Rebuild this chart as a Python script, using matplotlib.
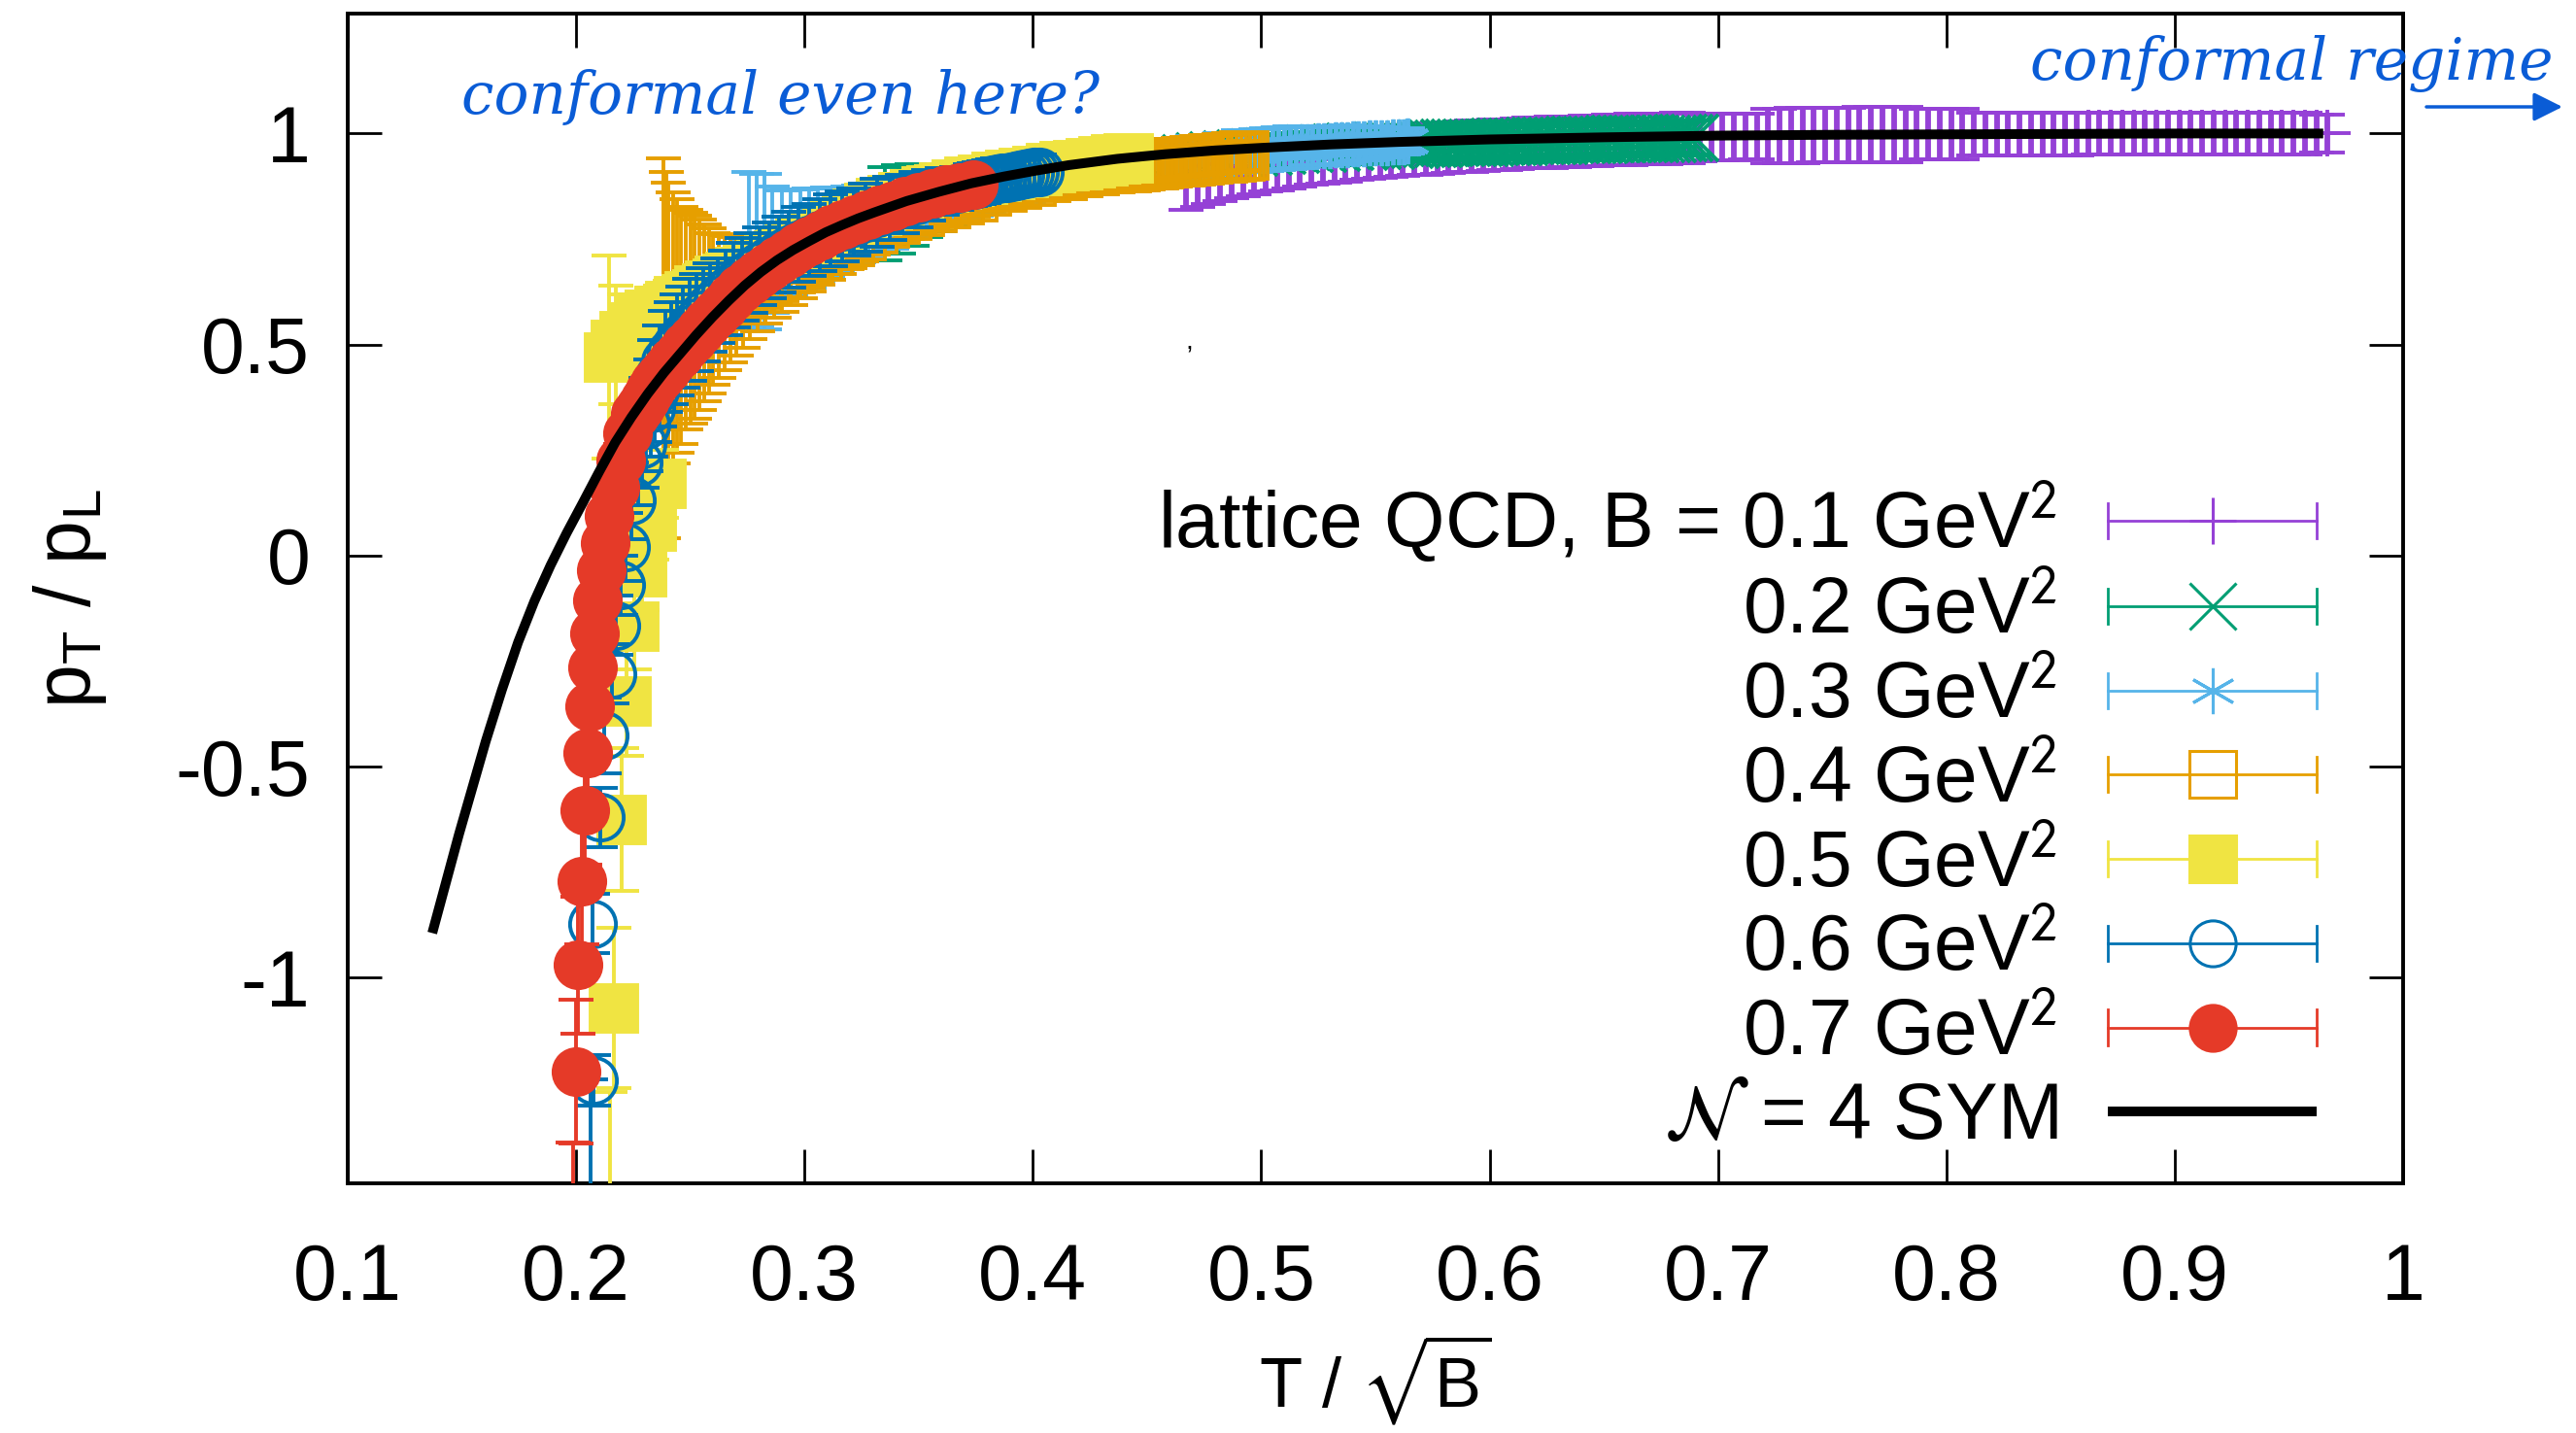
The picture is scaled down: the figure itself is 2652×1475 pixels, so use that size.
import numpy as np
import matplotlib
matplotlib.use("Agg")
import matplotlib.pyplot as plt
from matplotlib.container import ErrorbarContainer
from matplotlib.legend_handler import HandlerBase
from matplotlib.lines import Line2D

plt.rcParams["font.family"] = ["Liberation Sans", "DejaVu Sans"]
plt.rcParams["mathtext.fontset"] = "stixsans"
plt.rcParams["axes.unicode_minus"] = False

# lattice QCD, pT/pL against T/sqrt(B), one block per magnetic field
b01_x = [0.467, 0.472, 0.477, 0.482, 0.487, 0.492, 0.497, 0.502, 0.507, 0.512,
         0.517, 0.522, 0.527, 0.532, 0.537, 0.542, 0.547, 0.552, 0.557, 0.562,
         0.567, 0.572, 0.577, 0.582, 0.587, 0.592, 0.597, 0.602, 0.607, 0.612,
         0.617, 0.622, 0.627, 0.632, 0.637, 0.642, 0.647, 0.652, 0.657, 0.662,
         0.667, 0.672, 0.677, 0.682, 0.687, 0.692, 0.697, 0.702, 0.707, 0.712,
         0.717, 0.722, 0.727, 0.732, 0.737, 0.742, 0.747, 0.752, 0.757, 0.762,
         0.767, 0.772, 0.777, 0.782, 0.787, 0.792, 0.797, 0.802, 0.807, 0.812,
         0.817, 0.822, 0.827, 0.832, 0.837, 0.842, 0.847, 0.852, 0.857, 0.862,
         0.867, 0.872, 0.877, 0.882, 0.887, 0.892, 0.897, 0.902, 0.907, 0.912,
         0.917, 0.922, 0.927, 0.932, 0.937, 0.942, 0.947, 0.952, 0.957, 0.962, 0.967]
b01_y = [0.878, 0.886, 0.893, 0.900, 0.906, 0.912, 0.917, 0.922, 0.926, 0.930,
         0.934, 0.938, 0.941, 0.944, 0.947, 0.950, 0.952, 0.955, 0.957, 0.959,
         0.961, 0.963, 0.965, 0.967, 0.968, 0.970, 0.971, 0.973, 0.974, 0.976,
         0.977, 0.978, 0.979, 0.980, 0.981, 0.982, 0.983, 0.984, 0.985, 0.986,
         0.987, 0.988, 0.988, 0.989, 0.990, 0.990, 0.991, 0.992, 0.992, 0.993,
         0.993, 0.994, 0.994, 0.995, 0.995, 0.996, 0.996, 0.996, 0.996, 0.997,
         0.997, 0.997, 0.997, 0.998, 0.998, 0.998, 0.998, 0.998, 0.998, 0.999,
         0.999, 0.999, 0.999, 0.999, 0.999, 0.999, 0.999, 0.999, 0.999, 1.000,
         1.000, 1.000, 1.000, 1.000, 1.000, 1.000, 1.000, 1.000, 1.000, 1.000,
         1.000, 1.000, 1.000, 1.000, 1.000, 1.000, 1.000, 1.000, 1.000, 1.000, 1.000]
b01_e = [0.060] * 45 + [0.055] * 6 + [0.065] * 13 + [0.060] * 5 + [0.050] * 30 + [0.045] * 2

b02_x = [0.335, 0.341, 0.347, 0.353, 0.359, 0.365, 0.371, 0.377, 0.383, 0.389,
         0.395, 0.401, 0.407, 0.413, 0.419, 0.425, 0.431, 0.437, 0.443, 0.449,
         0.455, 0.461, 0.467, 0.473, 0.479, 0.485, 0.491, 0.497, 0.503, 0.509,
         0.515, 0.521, 0.527, 0.533, 0.539, 0.545, 0.551, 0.557,
         0.5650, 0.5675, 0.5700, 0.5725, 0.5750, 0.5775, 0.5800, 0.5825, 0.5850, 0.5875,
         0.5900, 0.5925, 0.5950, 0.5975, 0.6000, 0.6025, 0.6050, 0.6075, 0.6100, 0.6125,
         0.6150, 0.6175, 0.6200, 0.6225, 0.6250, 0.6275, 0.6300, 0.6325, 0.6350, 0.6375,
         0.6400, 0.6425, 0.6450, 0.6475, 0.6500, 0.6525, 0.6550, 0.6575, 0.6600, 0.6625,
         0.6650, 0.6675, 0.6700, 0.6725, 0.6750, 0.6775, 0.6800, 0.6825, 0.6850, 0.6875, 0.6900]
b02_y = [0.810, 0.820, 0.830, 0.840, 0.848, 0.856, 0.864, 0.871, 0.878, 0.885,
         0.891, 0.896, 0.902, 0.907, 0.912, 0.917, 0.921, 0.925, 0.929, 0.932,
         0.936, 0.939, 0.942, 0.945, 0.948, 0.951, 0.953, 0.955, 0.957, 0.959,
         0.961, 0.963, 0.964, 0.966, 0.968, 0.969, 0.970, 0.972,
         0.974, 0.974, 0.975, 0.975, 0.976, 0.976, 0.977, 0.977, 0.977, 0.978,
         0.978, 0.978, 0.979, 0.979, 0.979, 0.980, 0.980, 0.980, 0.981, 0.981,
         0.981, 0.982, 0.982, 0.982, 0.983, 0.983, 0.983, 0.983, 0.984, 0.984,
         0.984, 0.985, 0.985, 0.985, 0.985, 0.986, 0.986, 0.986, 0.986, 0.987,
         0.987, 0.987, 0.987, 0.988, 0.988, 0.988, 0.988, 0.989, 0.989, 0.989, 0.990]
b02_e = [0.110, 0.104, 0.097, 0.085, 0.080, 0.073, 0.066, 0.062, 0.060, 0.057,
         0.054, 0.050] + [0.050] * 3 + [0.045] * 6 + [0.040] * 68

b03_x = [0.2757, 0.2790, 0.2825, 0.2860, 0.2900, 0.2940, 0.2980, 0.3020, 0.3060, 0.3100,
         0.3145, 0.3190, 0.3235, 0.3280, 0.3330, 0.3380, 0.3430, 0.3480, 0.3530, 0.3585,
         0.3640, 0.3695, 0.3750, 0.3805, 0.3860, 0.3920, 0.3980, 0.4040, 0.4100, 0.4160,
         0.4220, 0.4280, 0.4340, 0.4400, 0.4460, 0.4520, 0.4580, 0.4640, 0.4700, 0.4760,
         0.4820,
         0.4900, 0.4925, 0.4950, 0.4975, 0.5000, 0.5025, 0.5050, 0.5075, 0.5100, 0.5125,
         0.5150, 0.5175, 0.5200, 0.5225, 0.5250, 0.5275, 0.5300, 0.5325, 0.5350, 0.5375,
         0.5400, 0.5425, 0.5450, 0.5475, 0.5500, 0.5525, 0.5550, 0.5575, 0.5600, 0.5625, 0.5640]
b03_y = [0.730, 0.725, 0.720, 0.725, 0.735, 0.742, 0.747, 0.752, 0.760, 0.766,
         0.773, 0.780, 0.786, 0.792, 0.800, 0.808, 0.817, 0.828, 0.837, 0.843,
         0.851, 0.858, 0.866, 0.872, 0.877, 0.883, 0.889, 0.894, 0.899, 0.904,
         0.909, 0.913, 0.918, 0.922, 0.926, 0.931, 0.935, 0.939, 0.943, 0.947,
         0.952,
         0.957, 0.958, 0.959, 0.960, 0.961, 0.962, 0.963, 0.964, 0.965, 0.966,
         0.967, 0.968, 0.969, 0.969, 0.970, 0.971, 0.972, 0.973, 0.973, 0.974,
         0.975, 0.976, 0.976, 0.977, 0.978, 0.979, 0.979, 0.980, 0.981, 0.981, 0.982]
b03_e = [0.180, 0.180, 0.185, 0.150, 0.130, 0.125, 0.120, 0.118, 0.110, 0.105,
         0.100, 0.095, 0.090, 0.087, 0.083, 0.080, 0.075, 0.070, 0.067, 0.064,
         0.060, 0.060, 0.060, 0.057, 0.055, 0.055, 0.053, 0.050] + [0.050] * 13 + \
        [0.050] * 12 + [0.045] * 8 + [0.040] * 5 + [0.035] * 3 + [0.030] * 3

b04_x = [0.2384, 0.2397, 0.2404, 0.2424, 0.2440, 0.2460, 0.2480, 0.2500, 0.2520, 0.2540,
         0.2560, 0.2580, 0.2600, 0.2625, 0.2650, 0.2675, 0.2700, 0.2730, 0.2760, 0.2795,
         0.2830, 0.2865, 0.2900, 0.2940, 0.2980, 0.3020, 0.3060, 0.3105, 0.3150, 0.3200,
         0.3250, 0.3300, 0.3350, 0.3400, 0.3450, 0.3505, 0.3560, 0.3620, 0.3680, 0.3740,
         0.3800, 0.3865, 0.3930, 0.3995, 0.4060, 0.4130, 0.4200, 0.4270, 0.4340,
         0.4410, 0.4430, 0.4450, 0.4470, 0.4490, 0.4510, 0.4530, 0.4550, 0.4570, 0.4590,
         0.4610, 0.4630, 0.4650, 0.4670, 0.4690, 0.4710, 0.4730, 0.4750, 0.4770, 0.4790,
         0.4810, 0.4830, 0.4850, 0.4870, 0.4890, 0.4910, 0.4926]
b04_y = [0.491, 0.516, 0.528, 0.540, 0.544, 0.545, 0.560, 0.562, 0.565, 0.570,
         0.575, 0.580, 0.585, 0.592, 0.600, 0.607, 0.615, 0.623, 0.632, 0.641,
         0.650, 0.659, 0.668, 0.679, 0.690, 0.701, 0.712, 0.722, 0.733, 0.744,
         0.758, 0.772, 0.786, 0.796, 0.805, 0.815, 0.824, 0.833, 0.842, 0.850,
         0.862, 0.872, 0.880, 0.887, 0.894, 0.900, 0.906, 0.911, 0.915,
         0.919, 0.920, 0.921, 0.923, 0.924, 0.925, 0.926, 0.928, 0.929, 0.930,
         0.931, 0.932, 0.933, 0.934, 0.935, 0.936, 0.937, 0.938, 0.939, 0.940,
         0.941, 0.942, 0.943, 0.944, 0.945, 0.946, 0.948]
b04_e = [0.449, 0.393, 0.355, 0.321, 0.300, 0.280, 0.260, 0.250, 0.240, 0.225,
         0.210, 0.195, 0.180, 0.170, 0.160, 0.150, 0.140, 0.130, 0.120, 0.110,
         0.100, 0.095, 0.090, 0.085, 0.080, 0.075, 0.070, 0.068, 0.065, 0.062,
         0.060, 0.058, 0.055, 0.055, 0.055, 0.052, 0.050, 0.050, 0.050, 0.048,
         0.045, 0.045, 0.045, 0.042, 0.040, 0.040, 0.040, 0.040, 0.040] + \
        [0.038] * 10 + [0.035] * 17

b05_x = [0.2148, 0.2165, 0.2200, 0.2220, 0.2256, 0.2290, 0.2330, 0.2375,
         0.2145, 0.2175, 0.2210, 0.2250, 0.2290, 0.2330, 0.2370, 0.2410, 0.2450, 0.2495,
         0.2540, 0.2585, 0.2630, 0.2675, 0.2720, 0.2765, 0.2810, 0.2855, 0.2900, 0.2950,
         0.3000, 0.3050, 0.3100, 0.3150, 0.3200, 0.3250, 0.3300, 0.3350, 0.3400, 0.3450,
         0.3500, 0.3555, 0.3610, 0.3665, 0.3720, 0.3780, 0.3840, 0.3900, 0.3960, 0.4020,
         0.4080, 0.4140, 0.4200, 0.4255, 0.4310, 0.4365, 0.4420]
b05_y = [-1.900, -1.072, -0.625, -0.345, -0.169, -0.040, 0.070, 0.170,
         0.470, 0.500, 0.520, 0.540, 0.556, 0.569, 0.580, 0.591, 0.602, 0.615,
         0.628, 0.640, 0.651, 0.660, 0.671, 0.682, 0.694, 0.706, 0.720, 0.732,
         0.745, 0.757, 0.770, 0.782, 0.795, 0.808, 0.820, 0.830, 0.840, 0.849,
         0.857, 0.865, 0.872, 0.879, 0.885, 0.891, 0.897, 0.902, 0.907, 0.912,
         0.917, 0.922, 0.926, 0.930, 0.934, 0.938, 0.941]
b05_e = [0.630, 0.190, 0.170, 0.130, 0.100, 0.090, 0.080, 0.080,
         0.240, 0.140, 0.100, 0.080, 0.070, 0.065, 0.060] + [0.060] * 12 + \
        [0.062, 0.065, 0.068, 0.070, 0.070, 0.070, 0.070, 0.070, 0.068, 0.065,
         0.062, 0.060, 0.058, 0.055, 0.052, 0.050, 0.050, 0.050, 0.048, 0.045,
         0.045, 0.045] + [0.040] * 6

b06_x = [0.2065, 0.2074, 0.2072, 0.2105, 0.2121, 0.2157, 0.2175, 0.2195, 0.2215, 0.2240,
         0.2270, 0.2287, 0.2305, 0.2325, 0.2345, 0.2367, 0.2390, 0.2415, 0.2440, 0.2467,
         0.2495, 0.2525, 0.2555, 0.2587, 0.2620, 0.2655, 0.2690, 0.2727, 0.2765, 0.2805,
         0.2845, 0.2887, 0.2930, 0.2975, 0.3020, 0.3067, 0.3115, 0.3165, 0.3215, 0.3267,
         0.3320, 0.3375, 0.3430, 0.3487, 0.3545, 0.3605, 0.3665,
         0.3727, 0.3745, 0.3765, 0.3785, 0.3805, 0.3825, 0.3845, 0.3865, 0.3885, 0.3905,
         0.3925, 0.3945, 0.3965, 0.3985, 0.4005, 0.4030]
b06_y = [-1.800, -1.242, -0.872, -0.620, -0.426, -0.280, -0.165, -0.070, 0.020, 0.130,
         0.220, 0.265, 0.310, 0.350, 0.390, 0.425, 0.460, 0.480, 0.500, 0.518,
         0.535, 0.553, 0.570, 0.588, 0.605, 0.623, 0.640, 0.655, 0.670, 0.685,
         0.700, 0.713, 0.725, 0.737, 0.748, 0.759, 0.770, 0.780, 0.790, 0.801,
         0.812, 0.823, 0.833, 0.843, 0.853, 0.862, 0.870,
         0.878, 0.880, 0.883, 0.885, 0.888, 0.890, 0.892, 0.894, 0.896, 0.898,
         0.900, 0.902, 0.904, 0.906, 0.908, 0.910]
b06_e = [0.560, 0.060, 0.070, 0.070, 0.090, 0.070, 0.070, 0.070, 0.080, 0.090,
         0.100, 0.105, 0.110, 0.115, 0.120, 0.120, 0.120, 0.120, 0.120, 0.120,
         0.120, 0.115, 0.110, 0.105, 0.100, 0.100, 0.100, 0.098, 0.095, 0.092,
         0.090, 0.090, 0.090, 0.088, 0.085, 0.085, 0.085, 0.083, 0.080, 0.080,
         0.080, 0.075, 0.070, 0.065, 0.060, 0.055, 0.050,
         0.050, 0.050, 0.050, 0.050, 0.049, 0.048, 0.048, 0.047, 0.046, 0.045,
         0.045, 0.044, 0.043, 0.042, 0.041, 0.040]

b07_x = [0.1985, 0.2000, 0.2007, 0.2025, 0.2036, 0.2051, 0.2061, 0.2070, 0.2080, 0.2095,
         0.2110, 0.2125, 0.2145, 0.2168, 0.2195, 0.2225, 0.2260, 0.2280, 0.2300, 0.2322,
         0.2345, 0.2370, 0.2395, 0.2422, 0.2450, 0.2480, 0.2510, 0.2542, 0.2575, 0.2610,
         0.2645, 0.2682, 0.2720, 0.2760, 0.2800, 0.2842, 0.2885, 0.2930, 0.2975, 0.3022,
         0.3070, 0.3120, 0.3170, 0.3222, 0.3275, 0.3330, 0.3385, 0.3442, 0.3500, 0.3560,
         0.3620, 0.3680, 0.3740]
b07_y = [-1.750, -1.223, -0.970, -0.770, -0.602, -0.468, -0.357, -0.265, -0.184, -0.107,
         -0.035, 0.030, 0.095, 0.160, 0.225, 0.290, 0.335, 0.353, 0.370, 0.390,
         0.410, 0.426, 0.442, 0.460, 0.477, 0.496, 0.514, 0.534, 0.553, 0.572,
         0.591, 0.612, 0.632, 0.650, 0.668, 0.684, 0.700, 0.716, 0.732, 0.746,
         0.759, 0.772, 0.784, 0.796, 0.807, 0.818, 0.829, 0.840, 0.850, 0.859,
         0.867, 0.873, 0.879]
b07_e = [0.360, 0.170, 0.163, 0.150, 0.130, 0.110, 0.100, 0.090, 0.080, 0.070,
         0.060, 0.050, 0.045, 0.040, 0.040, 0.035, 0.035] + [0.030] * 21 + [0.025] * 15

# N = 4 SYM curve
sym_x = [0.137, 0.1487, 0.1604, 0.1675, 0.1746, 0.1817, 0.1888, 0.1958, 0.2029, 0.2100,
         0.2171, 0.2242, 0.2313, 0.2384, 0.2455, 0.2526, 0.2597, 0.2668, 0.2738, 0.2809,
         0.2880, 0.2950, 0.3020, 0.3093, 0.3164, 0.3235, 0.3305, 0.3447, 0.3589, 0.3730,
         0.3872, 0.4013, 0.4156, 0.4370, 0.4580, 0.4800, 0.5000, 0.5300, 0.5600, 0.6000,
         0.6500, 0.7000, 0.7500, 0.8000, 0.8500, 0.9000, 0.9650]
sym_y = [-0.894, -0.660, -0.440, -0.318, -0.205, -0.108, -0.023, 0.053, 0.125, 0.198,
         0.268, 0.328, 0.383, 0.433, 0.478, 0.523, 0.565, 0.604, 0.640, 0.672,
         0.700, 0.724, 0.745, 0.766, 0.783, 0.799, 0.813, 0.840, 0.862, 0.882,
         0.898, 0.912, 0.925, 0.940, 0.951, 0.960, 0.966, 0.974, 0.980, 0.986,
         0.991, 0.995, 0.997, 0.998, 0.999, 1.000, 1.000]

x_ticks = [0.1, 0.2, 0.3, 0.4, 0.5, 0.6, 0.7, 0.8, 0.9, 1.0]
x_ticklabels = ["0.1", "0.2", "0.3", "0.4", "0.5", "0.6", "0.7", "0.8", "0.9", "1"]
y_ticks = [-1, -0.5, 0, 0.5, 1]
y_ticklabels = ["-1", "-0.5", "0", "0.5", "1"]

FS = 58
MS = 34
KEY_LW = 2.0
CAP = 13
NOTE_BLUE = "#0a5cd6"

# data, colour, marker, filled, error-bar width, key label
series = [
    (b01_x, b01_y, b01_e, "#9541d6", "+", False, 4.2, "lattice QCD, B = 0.1 GeV$^2$"),
    (b02_x, b02_y, b02_e, "#009e73", "x", False, 2.8, "0.2 GeV$^2$"),
    (b03_x, b03_y, b03_e, "#56b4e9", (6, 2, 0), False, 2.8, "0.3 GeV$^2$"),
    (b04_x, b04_y, b04_e, "#e69f00", "s", False, 2.8, "0.4 GeV$^2$"),
    (b05_x, b05_y, b05_e, "#f0e442", "s", True, 2.8, "0.5 GeV$^2$"),
    (b06_x, b06_y, b06_e, "#0072b2", "o", False, 2.8, "0.6 GeV$^2$"),
    (b07_x, b07_y, b07_e, "#e53a28", "o", True, 2.8, "0.7 GeV$^2$"),
]


class GnuplotKey(HandlerBase):
    # gnuplot style key sample: horizontal bar with end ticks and the point in the middle
    def create_artists(self, legend, orig_handle, xdescent, ydescent,
                       width, height, fontsize, trans):
        pts = orig_handle.lines[0]
        col = pts.get_markeredgecolor()
        x0, x1 = -xdescent, width - xdescent
        yc = (height - ydescent) / 2
        bar = Line2D([x0, x1], [yc, yc], color=col, lw=KEY_LW)
        ends = Line2D([x0, x0, np.nan, x1, x1],
                      [yc - CAP, yc + CAP, np.nan, yc - CAP, yc + CAP],
                      color=col, lw=KEY_LW)
        mark = Line2D([(x0 + x1) / 2], [yc], ls="none", marker=pts.get_marker(),
                      ms=pts.get_markersize(), mfc=pts.get_markerfacecolor(),
                      mec=col, mew=2.2)
        for a in (bar, ends, mark):
            a.set_transform(trans)
        return [bar, ends, mark]


fig = plt.figure(figsize=(26.52, 14.75), dpi=100)
ax = fig.add_axes([0.1350, 0.1742, 0.7979, 0.8163])

handles, labels = [], []
for i, (x, y, e, col, mk, filled, elw, lab) in enumerate(series):
    eb = ax.errorbar(x, y, yerr=e, ls="none", marker=mk, ms=MS, mew=2.8,
                     mec=col, mfc=col if filled else "none", color=col,
                     ecolor=col, elinewidth=elw, capsize=CAP, capthick=elw,
                     zorder=3 + i)
    handles.append(eb)
    labels.append(lab)

sym_line, = ax.plot(sym_x, sym_y, color="black", lw=7.2, solid_capstyle="butt", zorder=20)
handles.append(sym_line)
labels.append(r"$\mathcal{N}$ = 4 SYM")

ax.set_xlim(0.1, 1.0)
ax.set_ylim(-1.487, 1.284)
ax.set_xticks(x_ticks)
ax.set_xticklabels(x_ticklabels)
ax.set_yticks(y_ticks)
ax.set_yticklabels(y_ticklabels)
ax.tick_params(direction="in", length=25, width=2, top=True, right=True, labelsize=FS)
ax.tick_params(axis="x", pad=44)
ax.tick_params(axis="y", pad=28)
for s in ax.spines.values():
    s.set_linewidth(2.8)

ax.set_xlabel(r"T / $\sqrt{\mathregular{B}}$", fontsize=52, va="center")
ax.xaxis.set_label_coords(0.5, -0.168)
ax.set_ylabel(r"p$_\mathregular{T}$ / p$_\mathregular{L}$", fontsize=FS, va="center")
ax.yaxis.set_label_coords(-0.135, 0.5)

ax.legend(handles, labels, loc="center right", bbox_to_anchor=(0.958, 0.3127),
          frameon=False, markerfirst=False, fontsize=FS, handlelength=155 / FS,
          handletextpad=0.64, labelspacing=0.133, borderpad=0, borderaxespad=0,
          handler_map={ErrorbarContainer: GnuplotKey()})

ax.text(0.1498, 1.047, "conformal even here?", family="DejaVu Serif", style="italic",
        fontsize=43, color=NOTE_BLUE, va="baseline")
ax.text(0.8367, 1.128, "conformal regime", family="DejaVu Serif", style="italic",
        fontsize=43, color=NOTE_BLUE, va="baseline")
ax.annotate("", xy=(2638 / 2652, 1 - 110 / 1475), xytext=(2498 / 2652, 1 - 110 / 1475),
            xycoords="figure fraction", textcoords="figure fraction",
            arrowprops=dict(arrowstyle="-|>", color=NOTE_BLUE, lw=2.5,
                            mutation_scale=45, shrinkA=0, shrinkB=0))
ax.text(0.467, 0.49, ",", fontsize=20)

fig.savefig("out.png", dpi=100)
